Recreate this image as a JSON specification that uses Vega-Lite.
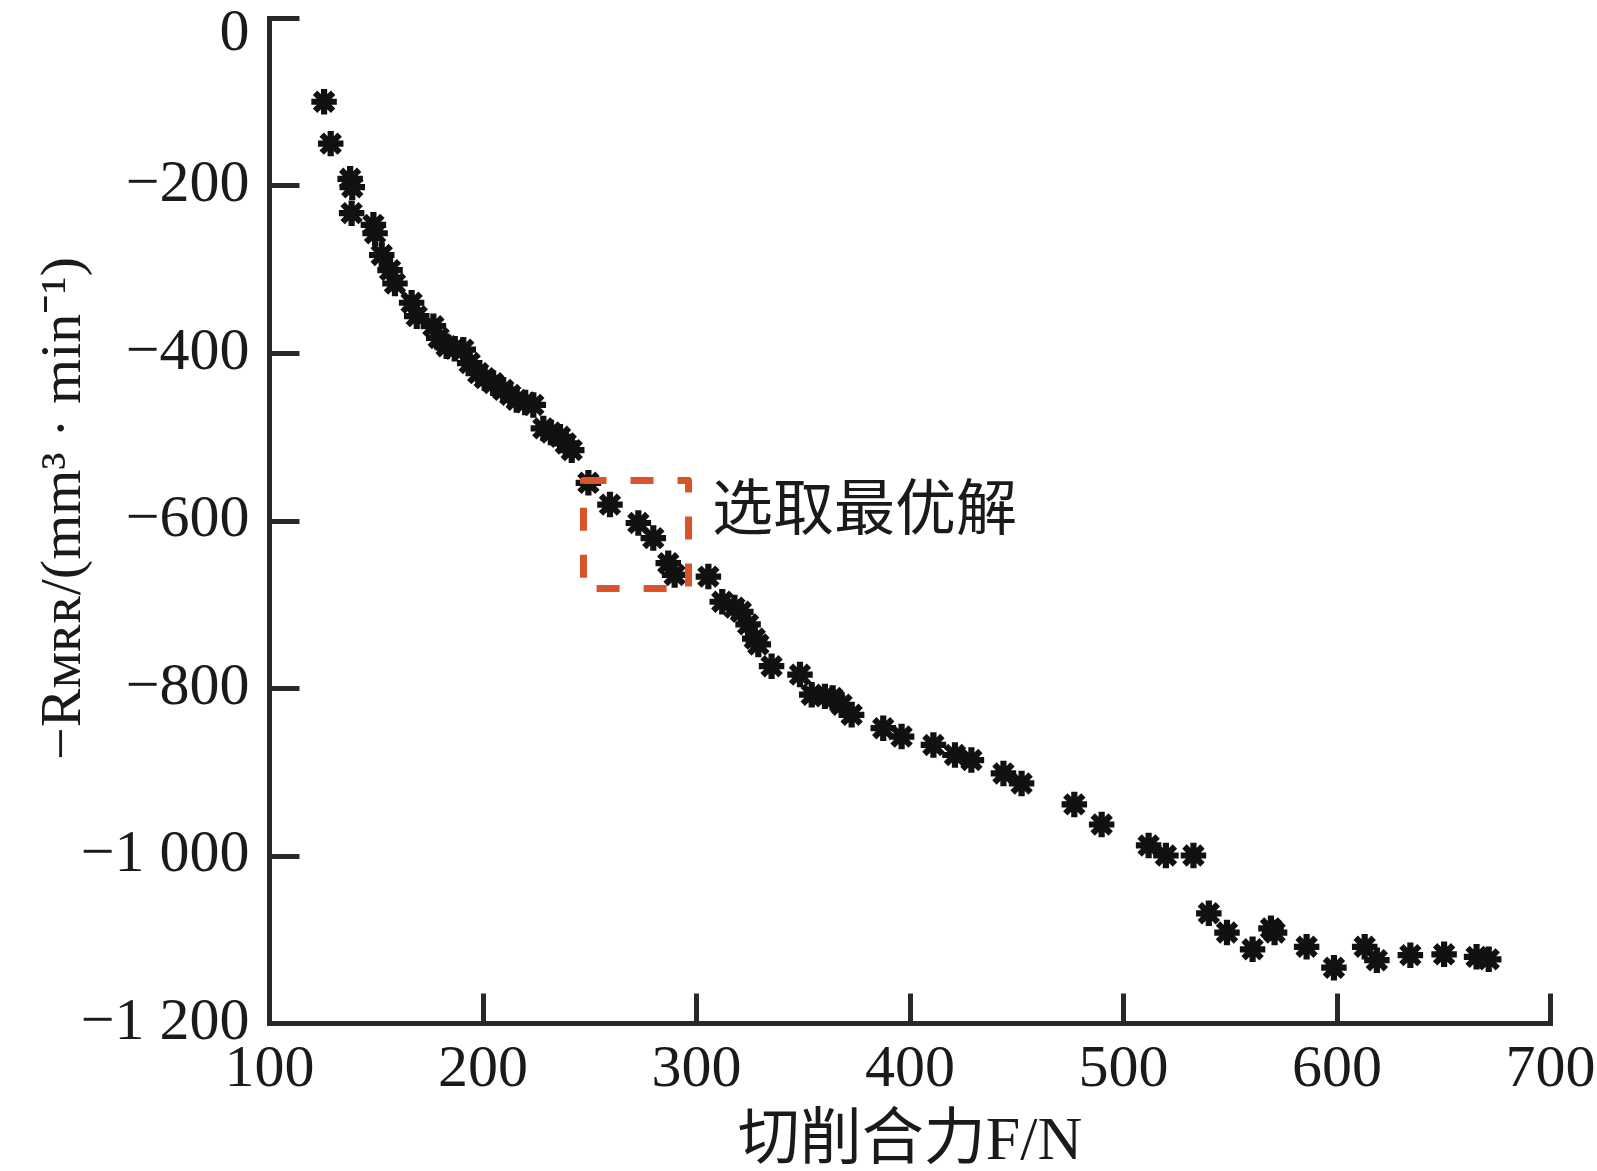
{
  "$schema": "https://vega.github.io/schema/vega-lite/v6.json",
  "width": 1281,
  "height": 1005,
  "autosize": "none",
  "padding": {"left": 269, "top": 18, "right": 47, "bottom": 148},
  "background": "white",
  "config": {
    "view": {"stroke": null},
    "axis": {
      "grid": false,
      "domainColor": "#2b2724",
      "domainWidth": 5,
      "domainCap": "square",
      "tickColor": "#2b2724",
      "tickWidth": 5,
      "tickSize": -30,
      "labelFont": "Liberation Serif",
      "labelFontSize": 60,
      "labelColor": "#1a1a1a",
      "labelOverlap": false,
      "labelFlush": false,
      "titleFont": "Liberation Serif, Noto Sans CJK SC",
      "titleFontSize": 62,
      "titleFontWeight": "normal",
      "titleColor": "#1a1a1a"
    }
  },
  "layer": [
    {
      "data": {
        "values": [
          {"F": 125.8, "R": -100}, {"F": 128.9, "R": -150}, {"F": 138, "R": -192}, {"F": 139, "R": -202},
          {"F": 138.7, "R": -233}, {"F": 148.9, "R": -247}, {"F": 149.7, "R": -257}, {"F": 152.8, "R": -283},
          {"F": 156.7, "R": -301}, {"F": 159, "R": -317}, {"F": 166.8, "R": -340}, {"F": 169.2, "R": -356},
          {"F": 177, "R": -368}, {"F": 179.5, "R": -382}, {"F": 183.2, "R": -392}, {"F": 187, "R": -395},
          {"F": 191, "R": -396}, {"F": 194, "R": -412}, {"F": 198, "R": -424}, {"F": 201, "R": -430},
          {"F": 205, "R": -436}, {"F": 209.7, "R": -444}, {"F": 213, "R": -450}, {"F": 216, "R": -456},
          {"F": 220, "R": -459}, {"F": 223.8, "R": -462}, {"F": 228.5, "R": -490}, {"F": 232, "R": -495},
          {"F": 236.3, "R": -500}, {"F": 239, "R": -508}, {"F": 241.8, "R": -516},
          {"F": 249.6, "R": -555}, {"F": 259.7, "R": -581}, {"F": 273, "R": -603}, {"F": 280, "R": -621},
          {"F": 287, "R": -651}, {"F": 290, "R": -665}, {"F": 305.8, "R": -667}, {"F": 312.3, "R": -697},
          {"F": 318, "R": -704}, {"F": 321, "R": -709}, {"F": 324.4, "R": -724}, {"F": 327.5, "R": -741},
          {"F": 329.2, "R": -748}, {"F": 335.4, "R": -774}, {"F": 348.7, "R": -784}, {"F": 354.2, "R": -808},
          {"F": 360.4, "R": -810}, {"F": 364, "R": -812}, {"F": 368.2, "R": -820}, {"F": 372.9, "R": -832},
          {"F": 387.7, "R": -848}, {"F": 396.3, "R": -858}, {"F": 411.2, "R": -868}, {"F": 421.3, "R": -880},
          {"F": 429, "R": -886}, {"F": 444, "R": -902}, {"F": 452.5, "R": -914},
          {"F": 477.2, "R": -939}, {"F": 490, "R": -963}, {"F": 512, "R": -988}, {"F": 520.1, "R": -1000},
          {"F": 533, "R": -1000}, {"F": 540.2, "R": -1069}, {"F": 548.7, "R": -1092}, {"F": 560.7, "R": -1112},
          {"F": 569.3, "R": -1087}, {"F": 571, "R": -1092}, {"F": 586, "R": -1109}, {"F": 598.8, "R": -1134},
          {"F": 613.2, "R": -1109}, {"F": 618.9, "R": -1125}, {"F": 634.6, "R": -1119}, {"F": 650.4, "R": -1118},
          {"F": 665.6, "R": -1121}, {"F": 671.3, "R": -1124}
        ]
      },
      "mark": {
        "type": "point",
        "shape": "M0,-1L0,1M-1,0L1,0M-0.707,-0.707L0.707,0.707M-0.707,0.707L0.707,-0.707",
        "filled": false,
        "stroke": "#111111",
        "strokeWidth": 6.2,
        "size": 650,
        "opacity": 1
      },
      "encoding": {
        "x": {
          "field": "F", "type": "quantitative",
          "scale": {"domain": [100, 700], "nice": false, "zero": false},
          "axis": {
            "values": [100, 200, 300, 400, 500, 600, 700],
            "labelPadding": 45,
            "title": "切削合力F/N",
            "titleY": 135,
            "titleBaseline": "alphabetic"
          }
        },
        "y": {
          "field": "R", "type": "quantitative",
          "scale": {"domain": [-1200, 0], "nice": false, "zero": false},
          "axis": {
            "values": [-1200, -1000, -800, -600, -400, -200, 0],
            "labelExpr": "replace(format(datum.value, ','), ',', ' ')",
            "labelPadding": 50,
            "labelBaseline": {"condition": {"test": "datum.value == 0", "value": "top"}, "value": "middle"},
            "labelOffset": {"condition": {"test": "datum.value == 0", "value": -16}, "value": -3},
            "title": "−Rᴍʀʀ/(mm³ · min⁻¹)",
            "titleFontSize": 58,
            "titleX": -190,
            "titleY": 490,
            "titleAngle": 270,
            "titleAlign": "center",
            "titleBaseline": "alphabetic"
          }
        }
      }
    },
    {
      "data": {"values": [{"x1": 247.3, "x2": 296.5, "y1": -552.2, "y2": -681.2}]},
      "mark": {
        "type": "rect",
        "fill": null,
        "fillOpacity": 0,
        "stroke": "#d9542a",
        "strokeWidth": 7,
        "strokeDash": [23, 24],
        "strokeJoin": "round"
      },
      "encoding": {
        "x": {"field": "x1", "type": "quantitative"},
        "x2": {"field": "x2"},
        "y": {"field": "y1", "type": "quantitative"},
        "y2": {"field": "y2"}
      }
    },
    {
      "data": {"values": [{"x": 307.5, "y": -590, "label": "选取最优解"}]},
      "mark": {
        "type": "text",
        "align": "left",
        "baseline": "middle",
        "font": "Noto Sans CJK SC",
        "fontSize": 61,
        "color": "#1a1a1a"
      },
      "encoding": {
        "x": {"field": "x", "type": "quantitative"},
        "y": {"field": "y", "type": "quantitative"},
        "text": {"field": "label"}
      }
    }
  ]
}
